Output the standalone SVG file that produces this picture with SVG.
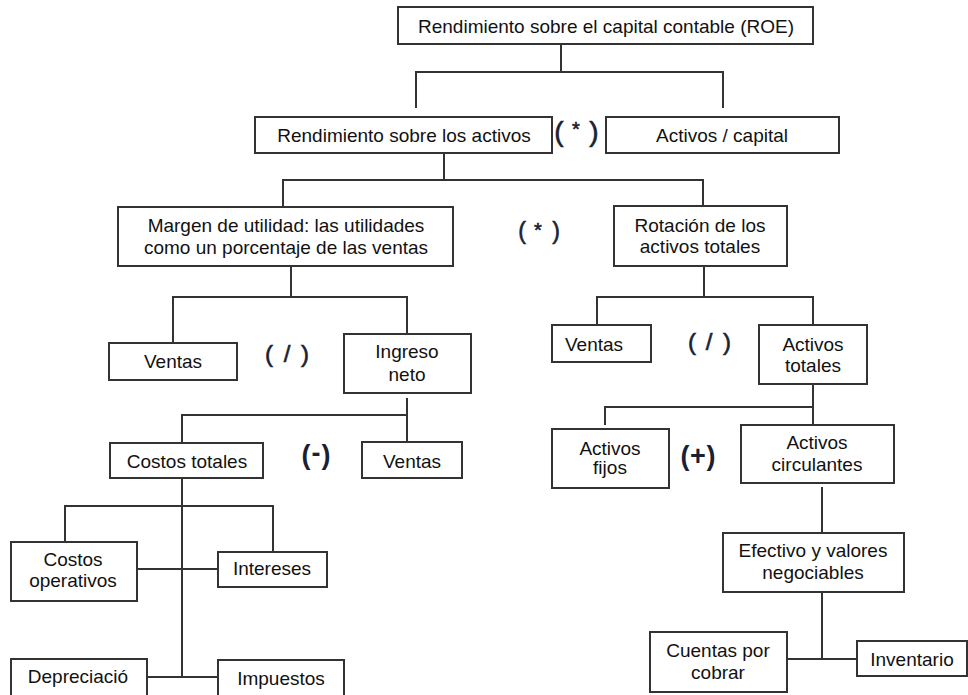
<svg xmlns="http://www.w3.org/2000/svg" width="968" height="695" viewBox="0 0 968 695">
  <style>
    .box { fill: #ffffff; stroke: #333333; stroke-width: 2; }
    .lbl { font-family: "Liberation Sans", Arial, sans-serif; font-size: 19px; fill: #111111; text-anchor: middle; }
    .op { font-family: "Liberation Sans", Arial, sans-serif; fill: #1a1f36; stroke: #1a1f36; stroke-width: 0.6; text-anchor: middle; }
    .op-b { font-weight: bold; stroke-width: 0; }
    .wire { fill: none; stroke: #333333; stroke-width: 2; }
  </style>
  <rect width="968" height="695" fill="#ffffff"/>

  <!-- tree connectors -->
  <g id="connectors" class="wire">
    <path d="M561 44 V72 M416 108 V72 H723 V108"/>
    <path d="M444 153 V180 M283 207 V180 H703 V207"/>
    <path d="M291 266 V297 M173 343 V297 H407 V334"/>
    <path d="M704 266 V297 M597 325 V297 H813 V325"/>
    <path d="M407 398 V442 M182 443 V415 H407"/>
    <path d="M813 384 V425 M605 425 V407 H813"/>
    <path d="M182 478 V677 M65 542 V506 H273 V552 M137 569 H218 M147 677 H218"/>
    <path d="M822 487 V533"/>
    <path d="M822 587 V659 M787 659 H857"/>
  </g>

  <g id="roe">
    <rect class="box" x="398" y="7" width="415" height="37"/>
    <text class="lbl" x="606" y="33">Rendimiento sobre el capital contable (ROE)</text>
  </g>
  <g id="roa">
    <rect class="box" x="255" y="117" width="297" height="36"/>
    <text class="lbl" x="404" y="142">Rendimiento sobre los activos</text>
  </g>
  <g id="activos-capital">
    <rect class="box" x="606" y="117" width="233" height="36"/>
    <text class="lbl" x="722" y="142">Activos / capital</text>
  </g>
  <g id="margen">
    <rect class="box" x="118" y="207" width="335" height="59"/>
    <text class="lbl" x="286" y="232">Margen de utilidad: las utilidades</text>
    <text class="lbl" x="286" y="254">como un porcentaje de las ventas</text>
  </g>
  <g id="rotacion">
    <rect class="box" x="614" y="206" width="173" height="60"/>
    <text class="lbl" x="700" y="232">Rotación de los</text>
    <text class="lbl" x="700" y="253">activos totales</text>
  </g>
  <g id="ventas-1">
    <rect class="box" x="109" y="343" width="128" height="37"/>
    <text class="lbl" x="173" y="368">Ventas</text>
  </g>
  <g id="ingreso-neto">
    <rect class="box" x="344" y="334" width="127" height="59"/>
    <text class="lbl" x="407" y="358">Ingreso</text>
    <text class="lbl" x="407" y="381">neto</text>
  </g>
  <g id="ventas-2">
    <rect class="box" x="552" y="325" width="99" height="37"/>
    <text class="lbl" x="594" y="351">Ventas</text>
  </g>
  <g id="activos-totales">
    <rect class="box" x="759" y="325" width="108" height="59"/>
    <text class="lbl" x="813" y="351">Activos</text>
    <text class="lbl" x="813" y="372">totales</text>
  </g>
  <g id="costos-totales">
    <rect class="box" x="110" y="443" width="153" height="35"/>
    <text class="lbl" x="187" y="468">Costos totales</text>
  </g>
  <g id="ventas-3">
    <rect class="box" x="362" y="442" width="100" height="36"/>
    <text class="lbl" x="412" y="468">Ventas</text>
  </g>
  <g id="activos-fijos">
    <rect class="box" x="552" y="429" width="117" height="59"/>
    <text class="lbl" x="610" y="455">Activos</text>
    <text class="lbl" x="610" y="474">fijos</text>
  </g>
  <g id="activos-circulantes">
    <rect class="box" x="741" y="425" width="153" height="58"/>
    <text class="lbl" x="817" y="449">Activos</text>
    <text class="lbl" x="817" y="471">circulantes</text>
  </g>
  <g id="costos-operativos">
    <rect class="box" x="11" y="542" width="126" height="59"/>
    <text class="lbl" x="73" y="566">Costos</text>
    <text class="lbl" x="73" y="587">operativos</text>
  </g>
  <g id="intereses">
    <rect class="box" x="218" y="552" width="109" height="35"/>
    <text class="lbl" x="272" y="575">Intereses</text>
  </g>
  <g id="efectivo">
    <rect class="box" x="723" y="533" width="181" height="59"/>
    <text class="lbl" x="813" y="557">Efectivo y valores</text>
    <text class="lbl" x="813" y="579">negociables</text>
  </g>
  <g id="cuentas-por-cobrar">
    <rect class="box" x="650" y="632" width="137" height="60"/>
    <text class="lbl" x="718" y="657">Cuentas por</text>
    <text class="lbl" x="718" y="679">cobrar</text>
  </g>
  <g id="inventario">
    <rect class="box" x="857" y="641" width="110" height="35"/>
    <text class="lbl" x="912" y="666">Inventario</text>
  </g>
  <g id="depreciacion">
    <rect class="box" x="11" y="659" width="136" height="40"/>
    <text class="lbl" x="78" y="683">Depreciació</text>
  </g>
  <g id="impuestos">
    <rect class="box" x="218" y="660" width="126" height="40"/>
    <text class="lbl" x="281" y="685">Impuestos</text>
  </g>

  <!-- operators between sibling terms, one glyph per text so spacing is exact -->
  <g id="operators" class="op">
    <text x="559" y="141" font-size="28">(</text>
    <text x="576" y="136" font-size="20">*</text>
    <text x="594" y="141" font-size="28">)</text>

    <text x="522" y="239" font-size="23">(</text>
    <text x="538" y="237" font-size="20">*</text>
    <text x="556" y="239" font-size="23">)</text>

    <text x="269" y="362" font-size="24">(</text>
    <text x="287" y="362" font-size="24">/</text>
    <text x="305" y="362" font-size="24">)</text>

    <text x="692" y="350" font-size="24">(</text>
    <text x="709" y="350" font-size="24">/</text>
    <text x="727" y="350" font-size="24">)</text>

    <text class="op-b" x="306" y="464" font-size="27">(</text>
    <text class="op-b" x="316" y="462" font-size="27">-</text>
    <text class="op-b" x="326" y="464" font-size="27">)</text>

    <text class="op-b" x="685" y="465" font-size="27">(</text>
    <text class="op-b" x="698" y="465" font-size="27">+</text>
    <text class="op-b" x="711" y="465" font-size="27">)</text>
  </g>
</svg>
